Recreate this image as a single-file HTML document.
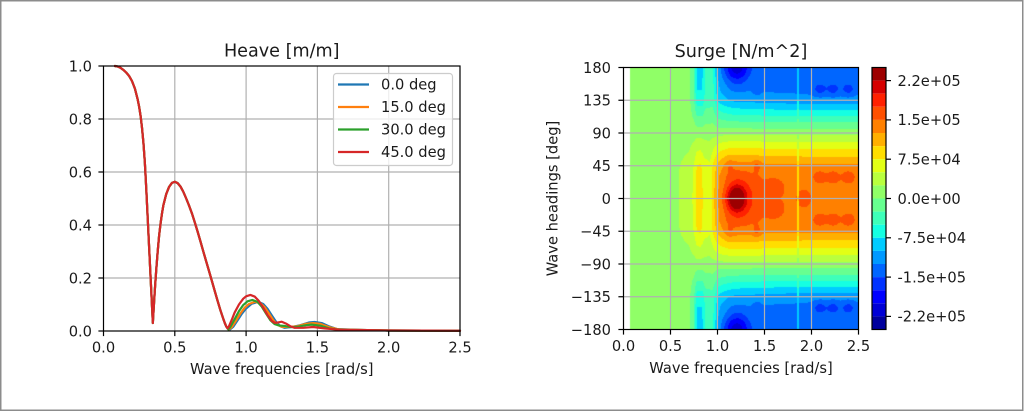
<!DOCTYPE html>
<html><head><meta charset="utf-8">
<style>
html,body{margin:0;padding:0;background:#fff;}
#wrap{position:relative;width:1024px;height:412px;overflow:hidden;background:#fff;}
#hm{position:absolute;left:623px;top:67px;width:236px;height:263px;
background:
linear-gradient(to right,#fff 0 6px,#90ff67 6px 72px,transparent 72px),
linear-gradient(to bottom,#0070ff 0%,#0090ff 12.5%,#20ffe0 20%,#90ff67 25%,#ffde00 33%,#ff9000 37.5%,#ff7000 50%,#ff9000 62.5%,#ffde00 67%,#90ff67 75%,#20ffe0 80%,#0090ff 87.5%,#0070ff 100%);}
svg{position:absolute;left:0;top:0;}
text{font-family:"DejaVu Sans","Liberation Sans",sans-serif;fill:#1a1a1a;}
.t{font-size:14.66px;}
.ti{font-size:17.6px;}
</style></head><body>
<div id="wrap">
<canvas id="hm" width="236" height="263"></canvas>
<svg width="1024" height="412" viewBox="0 0 1024 412">
<rect x="0.75" y="0.75" width="1022" height="409.5" fill="none" stroke="#8c8c8c" stroke-width="1.5"/>

<!-- ============ LEFT PLOT ============ -->
<g stroke="#b0b0b0" stroke-width="1.2">
<line x1="174.8" y1="66" x2="174.8" y2="331"/>
<line x1="246.1" y1="66" x2="246.1" y2="331"/>
<line x1="317.4" y1="66" x2="317.4" y2="331"/>
<line x1="388.7" y1="66" x2="388.7" y2="331"/>
<line x1="103.5" y1="278" x2="460" y2="278"/>
<line x1="103.5" y1="225" x2="460" y2="225"/>
<line x1="103.5" y1="172" x2="460" y2="172"/>
<line x1="103.5" y1="119" x2="460" y2="119"/>
</g>
<g transform="translate(103.5 331) scale(142.6 -265)" fill="none" stroke-width="2.2" stroke-linejoin="round" stroke-linecap="round">
<polyline vector-effect="non-scaling-stroke" stroke="#1f77b4" points="0.08,1 0.1,0.998 0.12,0.993 0.14,0.985 0.16,0.975 0.18,0.962 0.2,0.943 0.22,0.915 0.24,0.873 0.25,0.846 0.26,0.812 0.27,0.767 0.28,0.71 0.29,0.635 0.3,0.535 0.31,0.425 0.32,0.315 0.33,0.205 0.34,0.095 0.346,0.03 0.352,0.085 0.36,0.155 0.37,0.232 0.38,0.3 0.39,0.36 0.4,0.405 0.41,0.443 0.42,0.475 0.44,0.517 0.46,0.544 0.48,0.559 0.5,0.563 0.52,0.558 0.54,0.545 0.56,0.525 0.58,0.5 0.6,0.473 0.62,0.444 0.64,0.41 0.66,0.375 0.68,0.338 0.7,0.3 0.72,0.263 0.74,0.226 0.76,0.189 0.78,0.151 0.8,0.114 0.82,0.078 0.84,0.046 0.85,0.031 0.86,0.018 0.87,0.01 0.885,0.005 0.91,0.016 0.94,0.04 0.97,0.065 1,0.085 1.04,0.103 1.086,0.11 1.12,0.102 1.15,0.084 1.18,0.059 1.21,0.035 1.24,0.018 1.27,0.012 1.32,0.015 1.38,0.022 1.44,0.032 1.48,0.034 1.53,0.03 1.58,0.018 1.64,0.007 1.8,0.004 2,0.002 2.5,0.001"/>
<polyline vector-effect="non-scaling-stroke" stroke="#ff7f0e" points="0.08,1 0.1,0.998 0.12,0.993 0.14,0.985 0.16,0.975 0.18,0.962 0.2,0.943 0.22,0.915 0.24,0.873 0.25,0.846 0.26,0.812 0.27,0.767 0.28,0.71 0.29,0.635 0.3,0.535 0.31,0.425 0.32,0.315 0.33,0.205 0.34,0.095 0.346,0.03 0.352,0.085 0.36,0.155 0.37,0.232 0.38,0.3 0.39,0.36 0.4,0.405 0.41,0.443 0.42,0.475 0.44,0.517 0.46,0.544 0.48,0.559 0.5,0.563 0.52,0.558 0.54,0.545 0.56,0.525 0.58,0.5 0.6,0.473 0.62,0.444 0.64,0.41 0.66,0.375 0.68,0.338 0.7,0.3 0.72,0.263 0.74,0.226 0.76,0.189 0.78,0.151 0.8,0.114 0.82,0.078 0.84,0.046 0.85,0.031 0.86,0.018 0.88,0.006 0.9,0.015 0.93,0.04 0.96,0.066 0.99,0.088 1.02,0.102 1.06,0.11 1.1,0.105 1.13,0.09 1.16,0.066 1.19,0.041 1.22,0.023 1.25,0.016 1.3,0.015 1.36,0.018 1.42,0.027 1.47,0.03 1.52,0.027 1.58,0.015 1.65,0.006 1.8,0.004 2,0.002 2.5,0.001"/>
<polyline vector-effect="non-scaling-stroke" stroke="#2ca02c" points="0.08,1 0.1,0.998 0.12,0.993 0.14,0.985 0.16,0.975 0.18,0.962 0.2,0.943 0.22,0.915 0.24,0.873 0.25,0.846 0.26,0.812 0.27,0.767 0.28,0.71 0.29,0.635 0.3,0.535 0.31,0.425 0.32,0.315 0.33,0.205 0.34,0.095 0.346,0.03 0.352,0.085 0.36,0.155 0.37,0.232 0.38,0.3 0.39,0.36 0.4,0.405 0.41,0.443 0.42,0.475 0.44,0.517 0.46,0.544 0.48,0.559 0.5,0.563 0.52,0.558 0.54,0.545 0.56,0.525 0.58,0.5 0.6,0.473 0.62,0.444 0.64,0.41 0.66,0.375 0.68,0.338 0.7,0.3 0.72,0.263 0.74,0.226 0.76,0.189 0.78,0.151 0.8,0.114 0.82,0.078 0.84,0.046 0.85,0.031 0.86,0.018 0.875,0.006 0.89,0.016 0.92,0.045 0.95,0.075 0.98,0.098 1.01,0.112 1.045,0.117 1.08,0.11 1.11,0.092 1.14,0.066 1.17,0.041 1.2,0.026 1.23,0.021 1.27,0.019 1.31,0.015 1.35,0.015 1.42,0.022 1.46,0.024 1.52,0.02 1.58,0.01 1.65,0.005 1.8,0.004 2,0.002 2.5,0.001"/>
<polyline vector-effect="non-scaling-stroke" stroke="#d62728" points="0.08,1 0.1,0.998 0.12,0.993 0.14,0.985 0.16,0.975 0.18,0.962 0.2,0.943 0.22,0.915 0.24,0.873 0.25,0.846 0.26,0.812 0.27,0.767 0.28,0.71 0.29,0.635 0.3,0.535 0.31,0.425 0.32,0.315 0.33,0.205 0.34,0.095 0.346,0.03 0.352,0.085 0.36,0.155 0.37,0.232 0.38,0.3 0.39,0.36 0.4,0.405 0.41,0.443 0.42,0.475 0.44,0.517 0.46,0.544 0.48,0.559 0.5,0.563 0.52,0.558 0.54,0.545 0.56,0.525 0.58,0.5 0.6,0.473 0.62,0.444 0.64,0.41 0.66,0.375 0.68,0.338 0.7,0.3 0.72,0.263 0.74,0.226 0.76,0.189 0.78,0.151 0.8,0.114 0.82,0.078 0.84,0.046 0.85,0.031 0.86,0.018 0.87,0.01 0.88,0.018 0.9,0.043 0.92,0.07 0.95,0.1 0.98,0.122 1,0.131 1.03,0.136 1.06,0.13 1.09,0.113 1.12,0.088 1.15,0.06 1.18,0.038 1.2,0.031 1.22,0.032 1.25,0.035 1.28,0.028 1.31,0.018 1.34,0.012 1.4,0.012 1.47,0.015 1.55,0.01 1.65,0.005 1.8,0.004 2,0.002 2.5,0.001"/>
</g>
<rect x="103.5" y="66" width="356.5" height="265" fill="none" stroke="#000" stroke-width="1.2"/>
<g stroke="#000" stroke-width="1.2">
<line x1="98.4" y1="331" x2="103.5" y2="331"/>
<line x1="98.4" y1="278" x2="103.5" y2="278"/>
<line x1="98.4" y1="225" x2="103.5" y2="225"/>
<line x1="98.4" y1="172" x2="103.5" y2="172"/>
<line x1="98.4" y1="119" x2="103.5" y2="119"/>
<line x1="98.4" y1="66" x2="103.5" y2="66"/>
<line x1="103.5" y1="331" x2="103.5" y2="336.1"/>
<line x1="174.8" y1="331" x2="174.8" y2="336.1"/>
<line x1="246.1" y1="331" x2="246.1" y2="336.1"/>
<line x1="317.4" y1="331" x2="317.4" y2="336.1"/>
<line x1="388.7" y1="331" x2="388.7" y2="336.1"/>
<line x1="460" y1="331" x2="460" y2="336.1"/>
</g>
<g class="t" text-anchor="end">
<text x="92" y="336.3">0.0</text>
<text x="92" y="283.3">0.2</text>
<text x="92" y="230.3">0.4</text>
<text x="92" y="177.3">0.6</text>
<text x="92" y="124.3">0.8</text>
<text x="92" y="71.3">1.0</text>
</g>
<g class="t" text-anchor="middle">
<text x="103.5" y="352.4">0.0</text>
<text x="174.8" y="352.4">0.5</text>
<text x="246.1" y="352.4">1.0</text>
<text x="317.4" y="352.4">1.5</text>
<text x="388.7" y="352.4">2.0</text>
<text x="460" y="352.4">2.5</text>
<text x="281.75" y="374">Wave frequencies [rad/s]</text>
</g>
<text class="ti" x="281.75" y="56.5" text-anchor="middle">Heave [m/m]</text>
<rect x="333.5" y="73.5" width="119" height="92" rx="3" ry="3" fill="#fff" fill-opacity="0.8" stroke="#cccccc" stroke-width="1.2"/>
<g stroke-width="2.2">
<line x1="338" y1="84.5" x2="369" y2="84.5" stroke="#1f77b4"/>
<line x1="338" y1="107" x2="369" y2="107" stroke="#ff7f0e"/>
<line x1="338" y1="129.5" x2="369" y2="129.5" stroke="#2ca02c"/>
<line x1="338" y1="152" x2="369" y2="152" stroke="#d62728"/>
</g>
<g class="t">
<text x="381" y="89.5">0.0 deg</text>
<text x="381" y="112">15.0 deg</text>
<text x="381" y="134.5">30.0 deg</text>
<text x="381" y="157">45.0 deg</text>
</g>

<!-- ============ RIGHT PLOT ============ -->
<g stroke="#b0b0b0" stroke-width="1.2">
<line x1="670.5" y1="67.5" x2="670.5" y2="329.5"/>
<line x1="717.5" y1="67.5" x2="717.5" y2="329.5"/>
<line x1="764.5" y1="67.5" x2="764.5" y2="329.5"/>
<line x1="811.5" y1="67.5" x2="811.5" y2="329.5"/>
<line x1="623.5" y1="100.25" x2="858.5" y2="100.25"/>
<line x1="623.5" y1="133" x2="858.5" y2="133"/>
<line x1="623.5" y1="165.75" x2="858.5" y2="165.75"/>
<line x1="623.5" y1="198.5" x2="858.5" y2="198.5"/>
<line x1="623.5" y1="231.25" x2="858.5" y2="231.25"/>
<line x1="623.5" y1="264" x2="858.5" y2="264"/>
<line x1="623.5" y1="296.75" x2="858.5" y2="296.75"/>
</g>
<rect x="623.5" y="67.5" width="235" height="262" fill="none" stroke="#000" stroke-width="1.2"/>
<g stroke="#000" stroke-width="1.2">
<line x1="618.4" y1="67.5" x2="623.5" y2="67.5"/>
<line x1="618.4" y1="100.25" x2="623.5" y2="100.25"/>
<line x1="618.4" y1="133" x2="623.5" y2="133"/>
<line x1="618.4" y1="165.75" x2="623.5" y2="165.75"/>
<line x1="618.4" y1="198.5" x2="623.5" y2="198.5"/>
<line x1="618.4" y1="231.25" x2="623.5" y2="231.25"/>
<line x1="618.4" y1="264" x2="623.5" y2="264"/>
<line x1="618.4" y1="296.75" x2="623.5" y2="296.75"/>
<line x1="618.4" y1="329.5" x2="623.5" y2="329.5"/>
<line x1="623.5" y1="329.5" x2="623.5" y2="334.6"/>
<line x1="670.5" y1="329.5" x2="670.5" y2="334.6"/>
<line x1="717.5" y1="329.5" x2="717.5" y2="334.6"/>
<line x1="764.5" y1="329.5" x2="764.5" y2="334.6"/>
<line x1="811.5" y1="329.5" x2="811.5" y2="334.6"/>
<line x1="858.5" y1="329.5" x2="858.5" y2="334.6"/>
</g>
<g class="t" text-anchor="end">
<text x="611" y="72.8">180</text>
<text x="611" y="105.55">135</text>
<text x="611" y="138.3">90</text>
<text x="611" y="171.05">45</text>
<text x="611" y="203.8">0</text>
<text x="611" y="236.55">−45</text>
<text x="611" y="269.3">−90</text>
<text x="611" y="302.05">−135</text>
<text x="611" y="334.8">−180</text>
</g>
<g class="t" text-anchor="middle">
<text x="623.5" y="350.8">0.0</text>
<text x="670.5" y="350.8">0.5</text>
<text x="717.5" y="350.8">1.0</text>
<text x="764.5" y="350.8">1.5</text>
<text x="811.5" y="350.8">2.0</text>
<text x="858.5" y="350.8">2.5</text>
<text x="741" y="373">Wave frequencies [rad/s]</text>
<text x="557.5" y="198.5" transform="rotate(-90 557.5 198.5)">Wave headings [deg]</text>
</g>
<text class="ti" x="741" y="57.2" text-anchor="middle">Surge [N/m^2]</text>

<g stroke="none">
<rect x="872" y="67.5" width="14" height="13.1" fill="#9d0000"/>
<rect x="872" y="80.6" width="14" height="13.1" fill="#d60000"/>
<rect x="872" y="93.7" width="14" height="13.1" fill="#ff2100"/>
<rect x="872" y="106.8" width="14" height="13.1" fill="#ff5000"/>
<rect x="872" y="119.9" width="14" height="13.1" fill="#ff8000"/>
<rect x="872" y="133.0" width="14" height="13.1" fill="#ffaf00"/>
<rect x="872" y="146.1" width="14" height="13.1" fill="#ffde00"/>
<rect x="872" y="159.2" width="14" height="13.1" fill="#e2ff15"/>
<rect x="872" y="172.3" width="14" height="13.1" fill="#b9ff3e"/>
<rect x="872" y="185.4" width="14" height="13.1" fill="#90ff67"/>
<rect x="872" y="198.5" width="14" height="13.1" fill="#67ff90"/>
<rect x="872" y="211.6" width="14" height="13.1" fill="#3effb9"/>
<rect x="872" y="224.7" width="14" height="13.1" fill="#15ffe2"/>
<rect x="872" y="237.8" width="14" height="13.1" fill="#00ccff"/>
<rect x="872" y="250.9" width="14" height="13.1" fill="#0099ff"/>
<rect x="872" y="264.0" width="14" height="13.1" fill="#0066ff"/>
<rect x="872" y="277.1" width="14" height="13.1" fill="#0033ff"/>
<rect x="872" y="290.2" width="14" height="13.1" fill="#0000ff"/>
<rect x="872" y="303.3" width="14" height="13.1" fill="#0000d6"/>
<rect x="872" y="316.4" width="14" height="13.1" fill="#00009d"/>
</g>
<rect x="872" y="67.5" width="14" height="262" fill="none" stroke="#000" stroke-width="1.2"/>
<g stroke="#000" stroke-width="1.2">
<line x1="886" y1="80.6" x2="891" y2="80.6"/>
<line x1="886" y1="119.9" x2="891" y2="119.9"/>
<line x1="886" y1="159.2" x2="891" y2="159.2"/>
<line x1="886" y1="198.5" x2="891" y2="198.5"/>
<line x1="886" y1="237.8" x2="891" y2="237.8"/>
<line x1="886" y1="277.1" x2="891" y2="277.1"/>
<line x1="886" y1="316.4" x2="891" y2="316.4"/>
</g>
<g class="t">
<text x="897.5" y="85.9">2.2e+05</text>
<text x="897.5" y="125.2">1.5e+05</text>
<text x="897.5" y="164.5">7.5e+04</text>
<text x="897.5" y="203.8">0.0e+00</text>
<text x="897.5" y="243.1">-7.5e+04</text>
<text x="897.5" y="282.4">-1.5e+05</text>
<text x="897.5" y="321.7">-2.2e+05</text>
</g>
</svg>
</div>
<script>
(function(){
var cv=document.getElementById('hm');
if(!cv.getContext)return;
var ctx=cv.getContext('2d');
var W=236,H=263;
var img=ctx.createImageData(W,H);
var cols=[[0,0,157],[0,0,214],[0,0,255],[0,51,255],[0,102,255],[0,153,255],[0,204,255],[21,255,226],[62,255,185],[103,255,144],[144,255,103],[185,255,62],[226,255,21],[255,222,0],[255,175,0],[255,128,0],[255,80,0],[255,33,0],[214,0,0],[157,0,0]];
function interp(t,x){if(x<=t[0][0])return t[0][1];for(var i=1;i<t.length;i++){if(x<=t[i][0]){var a=t[i-1],b=t[i];return a[1]+(b[1]-a[1])*(x-a[0])/(b[0]-a[0]);}}return t[t.length-1][1];}
var A=[[0.06,0],[0.5,0],[0.6,15000],[0.7,25000],[0.75,45000],[0.78,72000],[0.82,75000],[0.86,55000],[0.92,48000],[0.97,90000],[1.02,115000],[1.1,135000],[1.2,142000],[1.3,142000],[1.4,138000],[1.5,135000],[2.0,133000],[2.5,133000]];
var B=[[0.06,0],[0.7,8000],[0.75,40000],[0.78,90000],[0.84,90000],[0.87,60000],[0.95,55000],[1.0,105000],[1.05,120000],[1.15,135000],[1.25,140000],[1.35,140000],[1.5,145000],[2.0,150000],[2.5,150000]];
var Sn=[1,0.97,0.97,0.88,0.62,0.35,0.03,-0.25,-0.55,-0.85,-0.97,-0.97,-1];
function S(t){var a=Math.abs(t)/15;var i=Math.min(11,Math.floor(a));var f=a-i;return Sn[i]+(Sn[i+1]-Sn[i])*f;}
var bumps=[
[1.2,0,100000,0.06,11],
[1.2,0,40000,0.1,20],
[1.35,10,15000,0.1,15],
[1.13,45,15000,0.035,7],
[1.42,45,25000,0.03,6],
[1.6,15,20000,0.08,9],
[1.92,0,20000,0.05,9],
[2.09,30,30000,0.045,6],[2.23,30,30000,0.045,6],[2.39,30,30000,0.045,6],
[1.2,180,-90000,0.1,15],
[1.42,150,-20000,0.03,6],
[1.65,165,-12000,0.05,8],
[2.09,150,-30000,0.045,6],[2.23,150,-30000,0.045,6],[2.39,150,-30000,0.045,6]];
for(var j=0;j<H;j++){
  var th=180-j*360/262; if(th<-180)th=-180;
  var at=Math.abs(th); var s=S(th);
  for(var i=0;i<W;i++){
    var w=i/94; if(w>2.5)w=2.5;
    var k=(j*W+i)*4;
    if(w<0.064){img.data[k]=255;img.data[k+1]=255;img.data[k+2]=255;img.data[k+3]=255;continue;}
    var amp=s>=0?interp(A,w):interp(B,w);
    var v=12000+amp*s;
    for(var b=0;b<bumps.length;b++){var q=bumps[b];var dw=(w-q[0])/q[3],dt=(at-q[1])/q[4];var e=dw*dw+dt*dt;if(e<18)v+=q[2]*Math.exp(-e/2);}
    if(Math.abs(w-1.86)<0.011)v*=0.65;
    var band=Math.floor((v+250000)/25000); if(band<0)band=0; if(band>19)band=19;
    var c=cols[band];
    img.data[k]=c[0];img.data[k+1]=c[1];img.data[k+2]=c[2];img.data[k+3]=255;
  }
}
ctx.putImageData(img,0,0);
})();
</script>
</body></html>
